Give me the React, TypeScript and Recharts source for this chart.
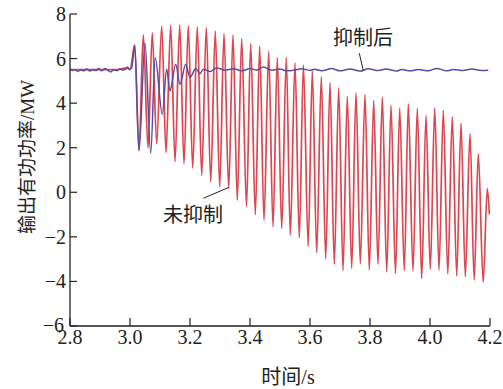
import React from "react";
import { LineChart, Line, XAxis, YAxis, ReferenceDot, ReferenceLine } from "recharts";

const SERIF = "Liberation Serif";

const xTicks = [2.8, 3.0, 3.2, 3.4, 3.6, 3.8, 4.0, 4.2];
const yTicks = [-6, -4, -2, 0, 2, 4, 6, 8];

// 未抑制 — turning points (s, MW)
const redTime = [
  2.8, 2.85, 2.9, 2.95, 2.991, 3.0, 3.0157, 3.03, 3.0443, 3.06, 3.0743, 3.089,
  3.1057, 3.12, 3.1357, 3.15, 3.1657, 3.18, 3.1943, 3.209, 3.2243, 3.239,
  3.2543, 3.269, 3.2843, 3.299, 3.3133, 3.329, 3.3433, 3.3577, 3.3723, 3.3883,
  3.4023, 3.4177, 3.4323, 3.4467, 3.4623, 3.4767, 3.491, 3.5057, 3.521, 3.5343,
  3.55, 3.5643, 3.578, 3.594, 3.6077, 3.6223, 3.6377, 3.6523, 3.6667, 3.681,
  3.6957, 3.71, 3.7243, 3.739, 3.7533, 3.7677, 3.7833, 3.7977, 3.8123, 3.8267,
  3.841, 3.8557, 3.87, 3.885, 3.899, 3.9143, 3.9277, 3.9433, 3.9577, 3.9723,
  3.9867, 4.001, 4.0157, 4.03, 4.0443, 4.0593, 4.0743, 4.089, 4.1033, 4.1177,
  4.1333, 4.1473, 4.161, 4.1773, 4.191, 4.198,
];
const redPower = [
  5.5, 5.5, 5.5, 5.5, 5.58, 5.5, 6.6, 1.87, 7.08, 2.0, 7.16, 2.17,
  7.46, 1.79, 7.5, 1.38, 7.5, 1.29, 7.47, 1.09, 7.41, 0.77,
  7.38, 0.48, 7.23, 0.24, 7.11, 0.17, 7.05, -0.36, 6.88, -0.64,
  6.67, -1.0, 6.55, -1.25, 6.31, -1.55, 6.04, -1.62, 6.04, -1.92,
  5.8, -2.04, 5.71, -2.42, 5.45, -2.71, 5.18, -2.99, 4.92, -3.23,
  4.67, -3.51, 4.29, -3.41, 4.46, -3.21, 4.38, -3.48, 4.11, -3.23,
  4.27, -3.58, 3.9, -3.65, 3.78, -3.51, 3.96, -3.53, 3.76, -3.87,
  3.44, -3.45, 3.78, -3.48, 3.66, -3.66, 3.39, -3.75, 3.09, -3.78,
  2.62, -3.93, 1.73, -4.03, 0.17, -1.0,
];

// 抑制后 — blue trace
const blueTime = [
  2.8, 2.808, 2.816, 2.826, 2.836, 2.846, 2.856, 2.866, 2.876, 2.886, 2.896,
  2.906, 2.916, 2.926, 2.936, 2.946, 2.956, 2.966, 2.976, 2.984, 2.991, 2.998,
  3.006, 3.0157, 3.03, 3.05, 3.069, 3.084, 3.1077, 3.1223, 3.1333, 3.1523,
  3.1667, 3.1857, 3.2, 3.219, 3.2333, 3.2444, 3.2667, 3.289, 3.3167, 3.3444,
  3.3723, 3.4, 3.4223, 3.4443, 3.4723, 3.5, 3.5223, 3.55, 3.5723, 3.6, 3.615,
  3.639, 3.6723, 3.7, 3.7333, 3.7667, 3.7943, 3.8277, 3.8533, 3.889, 3.9057,
  3.9333, 3.961, 3.9943, 4.0223, 4.0557, 4.0777, 4.111, 4.139, 4.1723, 4.1943,
];
const bluePower = [
  5.52, 5.46, 5.5, 5.43, 5.49, 5.45, 5.53, 5.44, 5.5, 5.46, 5.55,
  5.45, 5.56, 5.47, 5.4, 5.5, 5.46, 5.53, 5.49, 5.51, 5.62, 5.52,
  5.6, 6.61, 1.87, 6.7, 1.75, 6.04, 3.5, 5.52, 4.55, 5.74,
  4.85, 5.74, 5.15, 5.55, 5.32, 5.52, 5.42, 5.58, 5.48, 5.54,
  5.45, 5.55, 5.48, 5.62, 5.48, 5.53, 5.45, 5.49, 5.54, 5.47, 5.52,
  5.45, 5.55, 5.45, 5.53, 5.44, 5.54, 5.46, 5.53, 5.44, 5.51,
  5.45, 5.51, 5.45, 5.56, 5.45, 5.51, 5.46, 5.53, 5.46, 5.48,
];

const redData = redTime.map((t, i) => ({ t, p: redPower[i] }));
const blueData = blueTime.map((t, i) => ({ t, p: bluePower[i] }));

const INK = "#222";

const XTick = (props: any) => {
  const { x, y, payload } = props;
  return (
    <g>
      <line x1={x} y1={y} x2={x} y2={y - 8} stroke={INK} strokeWidth={1.2} />
      <text x={x} y={y + 18} textAnchor="middle" fontSize={20} fill={INK} fontFamily={SERIF}>
        {Number(payload.value).toFixed(1)}
      </text>
    </g>
  );
};

const YTick = (props: any) => {
  const { x, y, payload } = props;
  const v = Number(payload.value);
  return (
    <g>
      <line x1={x} y1={y} x2={x + 7} y2={y} stroke={INK} strokeWidth={1.2} />
      <text
        x={v === -6 ? x - 6 : x - 4}
        y={v === -6 ? y - 1 : y}
        dy="0.35em"
        textAnchor="end"
        fontSize={20}
        fill={INK}
        fontFamily={SERIF}
      >
        {v < 0 ? `\u2212${-v}` : v}
      </text>
    </g>
  );
};

const YTitle = (props: any) => {
  const { viewBox } = props;
  const cx = viewBox.x + 27;
  const cy = viewBox.y + viewBox.height / 2 - 13;
  return (
    <text
      transform={`translate(${cx},${cy}) rotate(-90)`}
      textAnchor="middle"
      dy="0.35em"
      fontSize={19}
      fill={INK}
      fontFamily={SERIF}
    >
      输出有功功率/MW
    </text>
  );
};

const XTitle = (props: any) => {
  const { viewBox } = props;
  return (
    <text
      x={viewBox.x + viewBox.width / 2 + 8}
      y={viewBox.y + 58}
      textAnchor="middle"
      fontSize={20}
      fill={INK}
      fontFamily={SERIF}
    >
      时间/s
    </text>
  );
};

const css =
  "body{margin:0;background:#fff}" +
  ".recharts-wrapper text{font-family:'Liberation Serif','Noto Sans CJK SC',serif !important}";

export default function App() {
  return (
    <div>
      <style>{css}</style>
      <LineChart width={503} height={389} margin={{ top: 14, right: 13, bottom: 0, left: 0 }}>
        <XAxis
          dataKey="t"
          type="number"
          domain={[2.8, 4.2]}
          ticks={xTicks}
          allowDataOverflow
          height={63}
          tickSize={0}
          tickMargin={0}
          tickLine={false}
          axisLine={{ stroke: INK, strokeWidth: 1.3 }}
          tick={<XTick />}
          label={<XTitle />}
        />
        <YAxis
          type="number"
          domain={[-6, 8]}
          ticks={yTicks}
          allowDataOverflow
          width={70}
          tickSize={0}
          tickMargin={0}
          tickLine={false}
          axisLine={{ stroke: INK, strokeWidth: 1.3 }}
          tick={<YTick />}
          label={<YTitle />}
        />
        <Line
          data={redData}
          dataKey="p"
          type="monotone"
          stroke="#dc4650"
          strokeWidth={1.7}
          dot={false}
          isAnimationActive={false}
        />
        <Line
          data={blueData}
          dataKey="p"
          type="monotone"
          stroke="#5a4c9e"
          strokeWidth={1.5}
          dot={false}
          isAnimationActive={false}
        />
        <ReferenceLine
          segment={[
            { x: 3.2444, y: -0.27 },
            { x: 3.3277, y: 0.21 },
          ]}
          stroke={INK}
          strokeWidth={1}
        />
        <ReferenceLine
          segment={[
            { x: 3.7643, y: 6.24 },
            { x: 3.7777, y: 5.46 },
          ]}
          stroke={INK}
          strokeWidth={1}
        />
        <ReferenceDot
          x={3.21}
          y={-1.02}
          r={0}
          fill="none"
          stroke="none"
          label={{ value: "未抑制", position: "center", fontSize: 20, fill: INK }}
        />
        <ReferenceDot
          x={3.7767}
          y={6.92}
          r={0}
          fill="none"
          stroke="none"
          label={{ value: "抑制后", position: "center", fontSize: 20, fill: INK }}
        />
      </LineChart>
    </div>
  );
}
